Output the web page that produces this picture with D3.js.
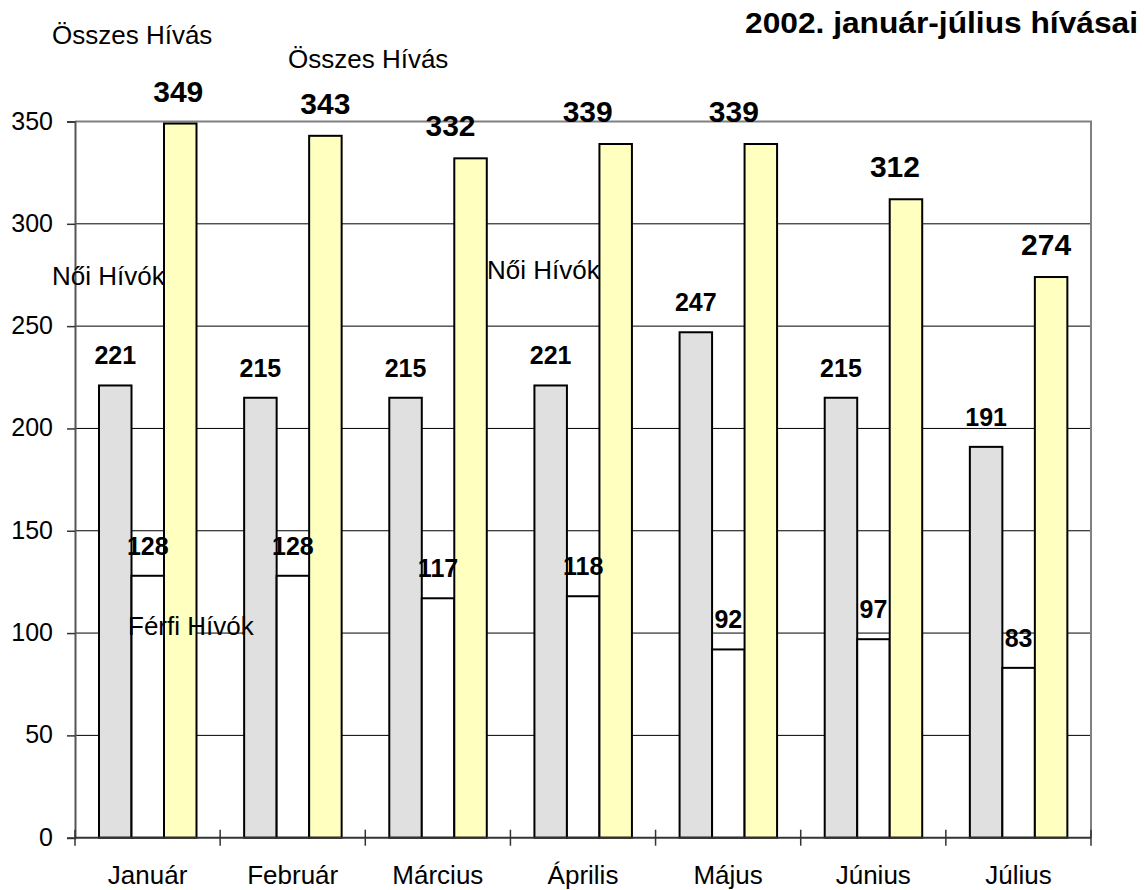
<!DOCTYPE html>
<html>
<head>
<meta charset="utf-8">
<script src="https://cdn.jsdelivr.net/npm/d3@7"></script>
<style>
  body { margin: 0; background: #fff; }
  svg text { font-family: "Liberation Sans", Arial, sans-serif; fill: #000; }
</style>
</head>
<body>
<div id="chart"></div>
<script>
// adatok
const months = ["Január", "Február", "Március", "Április", "Május", "Június", "Július"];
const noiHivok = [221, 215, 215, 221, 247, 215, 191];
const ferfiHivok = [128, 128, 117, 118, 92, 97, 83];
const osszesHivas = [349, 343, 332, 339, 339, 312, 274];
const yTicks = [0, 50, 100, 150, 200, 250, 300, 350];
const seriesNames = ["Női Hívók", "Férfi Hívók", "Összes Hívás"];
const titleText = "2002. január-július hívásai";

// kézzel elcsúsztatott címkék (mint az eredetiben)
const totalLabelDx = [-2, 0, -20, -28, -27, -11, -5];
const strayLabels = [
  {text: "Összes Hívás", x: 52, y: 44},
  {text: "Összes Hívás", x: 288, y: 68},
  {text: "Női Hívók", x: 52, y: 285},
  {text: "Női Hívók", x: 487, y: 279},
  {text: "Férfi Hívók", x: 128, y: 635}
];

function drawChart() {
    const width = 1145, height = 890;
    const margin = {top: 121.5, right: 54, bottom: 52.3, left: 75};

    const svg = d3.select("#chart").append("svg")
        .attr("width", width).attr("height", height)
        .style("background", "white");

    const x0 = d3.scaleBand().domain(months).range([margin.left, width - margin.right]);
    const x1 = d3.scaleBand().domain(seriesNames).range([24, 24 + 97.5]);
    const y = d3.scaleLinear().domain([0, 350]).range([height - margin.bottom, margin.top]);

    const series = [
        {name: seriesNames[0], values: noiHivok, fill: "#E0E0E0"},
        {name: seriesNames[1], values: ferfiHivok, fill: "#FFFFFF"},
        {name: seriesNames[2], values: osszesHivas, fill: "#FFFFC0"}
    ];

    // rácsvonalak
    svg.append("g").selectAll("line")
       .data(yTicks.filter(t => t > 0 && t < 350)).join("line")
       .attr("x1", margin.left).attr("x2", width - margin.right)
       .attr("y1", d => y(d)).attr("y2", d => y(d))
       .attr("stroke", "#000").attr("stroke-width", 1);

    // keret felül és jobbra
    svg.append("path")
       .attr("d", `M${margin.left},${y(350)}H${width - margin.right}V${y(0)}`)
       .attr("fill", "none").attr("stroke", "#808080").attr("stroke-width", 2);

    // oszlopok
    series.forEach(s => {
        svg.append("g").selectAll("rect")
           .data(months).join("rect")
           .attr("x", (m) => x0(m) + x1(s.name))
           .attr("width", x1.bandwidth())
           .attr("y", (m, i) => y(s.values[i]))
           .attr("height", (m, i) => y(0) - y(s.values[i]))
           .attr("fill", s.fill).attr("stroke", "#000").attr("stroke-width", 2);
    });

    // y tengely
    const yAxis = svg.append("g").attr("transform", `translate(${margin.left},0)`)
       .call(d3.axisLeft(y).tickValues(yTicks).tickSize(8).tickPadding(14));
    yAxis.select(".domain").attr("stroke", "#555").attr("stroke-width", 2);
    yAxis.selectAll(".tick line").attr("stroke", "#333").attr("stroke-width", 1.5);
    yAxis.selectAll(".tick text").style("font-size", "25px").attr("dy", "0.3em");

    // x tengely (kereszteződő osztásjelek)
    const xEdges = months.map(m => x0(m)).concat([width - margin.right]);
    svg.append("line")
       .attr("x1", margin.left).attr("x2", width - margin.right)
       .attr("y1", y(0)).attr("y2", y(0))
       .attr("stroke", "#333").attr("stroke-width", 2);
    svg.append("g").selectAll("line")
       .data(xEdges).join("line")
       .attr("x1", d => d).attr("x2", d => d)
       .attr("y1", y(0) - 8).attr("y2", y(0) + 8)
       .attr("stroke", "#333").attr("stroke-width", 1.5);
    svg.append("g").selectAll("text")
       .data(months).join("text")
       .attr("x", m => x0(m) + x0.bandwidth() / 2)
       .attr("y", y(0) + 46)
       .attr("text-anchor", "middle")
       .style("font-size", "26px")
       .text(m => m);

    // értékcímkék
    [0, 1].forEach(k => {
        const s = series[k];
        svg.append("g").selectAll("text")
           .data(months).join("text")
           .attr("x", m => x0(m) + x1(s.name) + x1.bandwidth() / 2)
           .attr("y", (m, i) => y(s.values[i]) - 21)
           .attr("text-anchor", "middle")
           .style("font-size", "25px").style("font-weight", "bold")
           .text((m, i) => s.values[i]);
    });
    svg.append("g").selectAll("text")
       .data(months).join("text")
       .attr("x", (m, i) => x0(m) + x1(seriesNames[2]) + x1.bandwidth() / 2 + totalLabelDx[i])
       .attr("y", (m, i) => y(osszesHivas[i]) - 22)
       .attr("text-anchor", "middle")
       .style("font-size", "30px").style("font-weight", "bold")
       .text((m, i) => osszesHivas[i]);

    // elkóborolt sorozatnevek
    svg.append("g").selectAll("text")
       .data(strayLabels).join("text")
       .attr("x", d => d.x).attr("y", d => d.y)
       .style("font-size", "26px")
       .text(d => d.text);

    // cím
    svg.append("text")
       .attr("x", 745).attr("y", 33)
       .attr("textLength", 393).attr("lengthAdjust", "spacingAndGlyphs")
       .style("font-size", "29px").style("font-weight", "bold")
       .text(titleText);
}

drawChart();
</script>
</body>
</html>
